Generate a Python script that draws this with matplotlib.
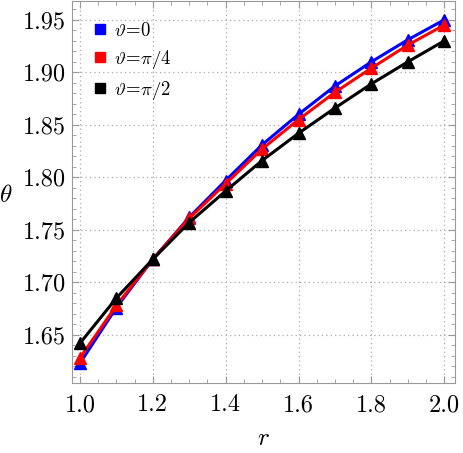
import matplotlib
matplotlib.use("Agg")
import matplotlib.pyplot as plt
from matplotlib.ticker import MultipleLocator, FormatStrFormatter

plt.rcParams['font.family'] = 'serif'
plt.rcParams['font.serif'] = ['cmr10', 'DejaVu Serif']
plt.rcParams['mathtext.fontset'] = 'cm'
plt.rcParams['axes.unicode_minus'] = False

r = [1.0, 1.1, 1.2, 1.3, 1.4, 1.5, 1.6, 1.7, 1.8, 1.9, 2.0]
theta_0 = [1.623, 1.676, 1.722, 1.762, 1.797, 1.831, 1.860, 1.887, 1.910, 1.931, 1.950]
theta_pi4 = [1.628, 1.678, 1.722, 1.761, 1.794, 1.827, 1.855, 1.881, 1.904, 1.926, 1.945]
theta_pi2 = [1.642, 1.685, 1.722, 1.757, 1.787, 1.816, 1.842, 1.866, 1.889, 1.910, 1.930]

series = [
    (theta_0, 'blue', r'$\vartheta\!=\!0$'),
    (theta_pi4, 'red', r'$\vartheta\!=\!\pi/4$'),
    (theta_pi2, 'black', r'$\vartheta\!=\!\pi/2$'),
]

fig = plt.figure(figsize=(4.64, 4.53), dpi=100)
ax = fig.add_axes([0.155, 0.155, 0.826, 0.843])

for ys, c, lab in series:
    ax.plot(r, ys, color=c, lw=2.2, marker='^', ms=8, mec=c, mfc=c)
    # square marker for the legend only
    ax.plot([], [], ls='none', marker='s', ms=7.5, color=c, label=lab)

ax.set_xlim(0.978, 2.03)
ax.set_ylim(1.6044, 1.968)
ax.xaxis.set_major_locator(MultipleLocator(0.2))
ax.xaxis.set_minor_locator(MultipleLocator(0.05))
ax.yaxis.set_major_locator(MultipleLocator(0.05))
ax.yaxis.set_minor_locator(MultipleLocator(0.01))
ax.xaxis.set_major_formatter(FormatStrFormatter('%.1f'))
ax.yaxis.set_major_formatter(FormatStrFormatter('%.2f'))

ax.tick_params(which='both', direction='in', top=True, right=True, color='#999999')
ax.tick_params(which='major', length=5, labelsize=17.5)
ax.tick_params(axis='x', which='major', pad=8)
ax.tick_params(axis='y', which='major', pad=4)
ax.tick_params(which='minor', length=3)
for s in ax.spines.values():
    s.set_color('#999999')

ax.grid(True, which='major', ls=(0, (1, 2.5)), color='#aaaaaa', lw=0.9)

ax.set_xlabel(r'$r$', fontsize=18, va='center', ha='center')
ax.xaxis.set_label_coords(0.501, -0.148)
ax.set_ylabel(r'$\theta$', fontsize=18, rotation=0, va='center', ha='center')
ax.yaxis.set_label_coords(-0.172, 0.49)

handles, labels = ax.get_legend_handles_labels()
ax.legend(handles, labels, loc='upper left', bbox_to_anchor=(0.01, 0.995),
          frameon=False, fontsize=13.5, handlelength=0.6, handletextpad=0.45,
          borderaxespad=0.6, labelspacing=0.43)

fig.savefig('out.png', dpi=100)
